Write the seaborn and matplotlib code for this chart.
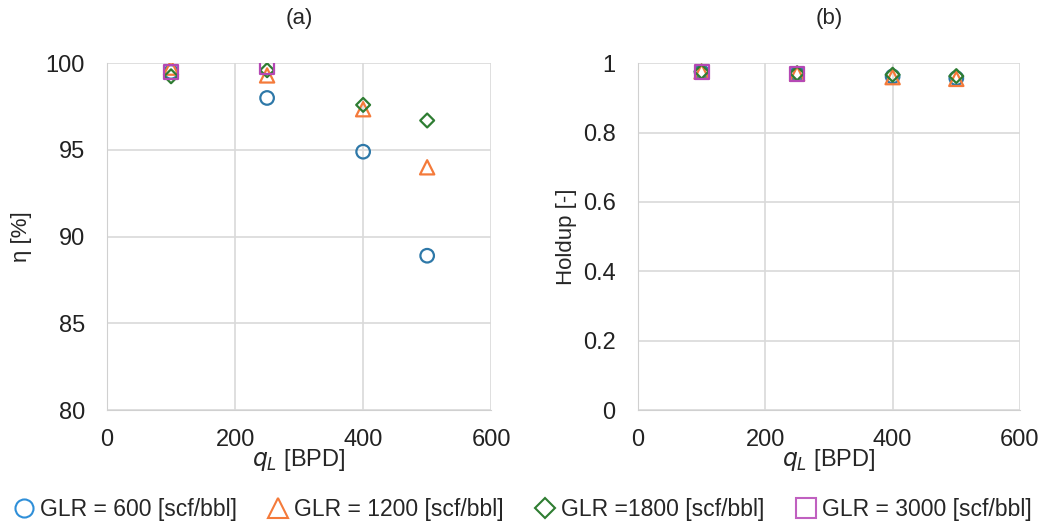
import matplotlib
matplotlib.use("Agg")
import matplotlib.pyplot as plt
import seaborn as sns
import pandas as pd

# ---- data ----
qL = [100, 250, 400, 500]
glr_labels = ["GLR = 600 [scf/bbl]", "GLR = 1200 [scf/bbl]",
              "GLR =1800 [scf/bbl]", "GLR = 3000 [scf/bbl]"]
eta_600 = [99.5, 98.0, 94.9, 88.9]
eta_1200 = [99.75, 99.3, 97.35, 94.0]
eta_1800 = [99.25, 99.6, 97.6, 96.7]
eta_3000 = [99.5, 99.8]
hold_600 = [0.975, 0.970, 0.962, 0.957]
hold_1200 = [0.976, 0.970, 0.960, 0.955]
hold_1800 = [0.976, 0.971, 0.967, 0.963]
hold_3000 = [0.975, 0.970]

colors = ["#2E78A8", "#F47A3A", "#2E7D32", "#B548B5"]
markers = ["o", "^", "D", "s"]
sizes = [95, 105, 50, 100]

rows = []
for lab, e, h in zip(glr_labels, [eta_600, eta_1200, eta_1800, eta_3000],
                     [hold_600, hold_1200, hold_1800, hold_3000]):
    for x, ev, hv in zip(qL, e, h):
        rows.append({"qL": x, "eta": ev, "hold": hv, "GLR": lab})
df = pd.DataFrame(rows)

sns.set_style("white")
plt.rcParams["font.family"] = ["Liberation Sans", "DejaVu Sans"]

fig = plt.figure(figsize=(10.44, 5.23), dpi=100)
axA = fig.add_axes([0.1025, 0.216, 0.368, 0.663])
axB = fig.add_axes([0.611, 0.216, 0.366, 0.663])

def draw(ax, col):
    for lab, c, m, s in zip(glr_labels, colors, markers, sizes):
        sub = df[df["GLR"] == lab]
        sns.scatterplot(data=sub, x="qL", y=col, ax=ax, marker=m, s=s,
                        facecolors="none", edgecolor=c, linewidth=1.6,
                        label=lab, legend=False, zorder=3)

draw(axA, "eta")
draw(axB, "hold")

for ax in (axA, axB):
    ax.set_xlim(0, 600)
    ax.set_xticks([0, 200, 400, 600])
    ax.grid(True, color="#d9d9d9", linewidth=1.2)
    for sp in ax.spines.values():
        sp.set_visible(False)
    ax.spines["left"].set_visible(True)
    ax.spines["bottom"].set_visible(True)
    ax.spines["left"].set_color("#d0d0d0")
    ax.spines["bottom"].set_color("#d0d0d0")
    ax.tick_params(axis="both", length=0, labelsize=17, colors="#222222")
    ax.tick_params(axis="x", pad=14)
    ax.tick_params(axis="y", pad=16)
    ax.set_xlabel(r"$q_L$ [BPD]", fontsize=17, labelpad=-3)

axA.set_ylim(80, 100)
axA.set_yticks([80, 85, 90, 95, 100])
axA.set_ylabel("η [%]", fontsize=16, labelpad=10)
axA.set_title("(a)", fontsize=16, pad=28)

axB.set_ylim(0, 1)
axB.set_yticks([0, 0.2, 0.4, 0.6, 0.8, 1])
axB.set_yticklabels(["0", "0.2", "0.4", "0.6", "0.8", "1"])
axB.set_ylabel("Holdup [-]", fontsize=16, labelpad=4)
axB.set_title("(b)", fontsize=16, pad=28)

handles = [plt.Line2D([], [], linestyle="none", marker=m, markersize=ms,
                      markerfacecolor="none", markeredgecolor=c, markeredgewidth=1.5)
           for m, c, ms in zip(markers, ["#2F8FD8", "#F47A3A", "#2E7D32", "#C060C0"],
                               [13, 14, 10, 14])]
fig.legend(handles, glr_labels, loc="lower center", ncol=4, frameon=False,
           fontsize=16.5, bbox_to_anchor=(0.5, -0.035), handletextpad=0.2,
           columnspacing=1.3, handlelength=1.0)

fig.savefig("out.png", dpi=100)
